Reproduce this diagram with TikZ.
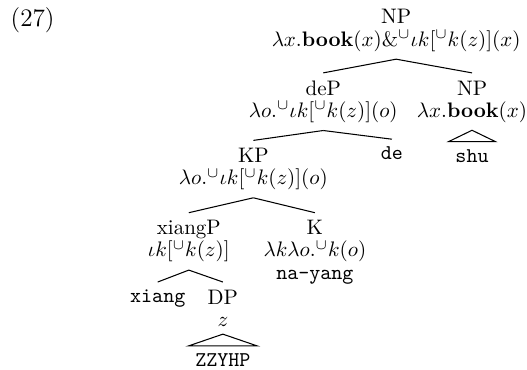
\documentclass[tikz,border=0pt]{standalone}
\usepackage{amsmath}

\tikzset{
  tnode/.style={align=center,anchor=north,inner xsep=0pt,inner ysep=3.5pt,
    font=\fontsize{10pt}{10.5pt}\selectfont},
  leaf/.style={tnode,font=\ttfamily}
}

\begin{document}
\begin{tikzpicture}[line width=0.5pt]
\useasboundingbox (0,0) rectangle (8.82,-6.19);
% 例句编号
\node[anchor=north west,inner sep=0pt,font=\large] (num) at (0.17,-0.12) {(27)};
% 根节点
\node[tnode] (np) at (6.63,-0.03) {NP\\$\lambda x.\mathbf{book}(x)\&^{\cup}\iota k[^{\cup}k(z)](x)$};
% 第二层
\node[tnode] (dep) at (5.41,-1.22) {deP\\$\lambda o.^{\cup}\iota k[^{\cup}k(z)](o)$};
\node[tnode] (npb) at (7.90,-1.22) {NP\\$\lambda x.\mathbf{book}(x)$};
\draw (np.south) -- (dep.north);
\draw (np.south) -- (npb.north);
% 第三层
\node[tnode] (kp) at (4.24,-2.35) {KP\\$\lambda o.^{\cup}\iota k[^{\cup}k(z)](o)$};
\node[leaf] (de) at (6.56,-2.33) {de};
\node[leaf] (shu) at (7.90,-2.37) {shu};
\draw (dep.south) -- (kp.north);
\draw (dep.south) -- (de.north);
% 三角形：shu
\draw (npb.south) -- ([xshift=-3pt]shu.north west) -- ([xshift=3pt]shu.north east) -- cycle;
% 第四层
\node[tnode] (xiangp) at (3.16,-3.56) {xiangP\\$\iota k[^{\cup}k(z)]$};
\node[tnode] (k) at (5.27,-3.56) {K\\$\lambda k\lambda o.^{\cup}k(o)$\\\texttt{na-yang}};
\draw (kp.south) -- (xiangp.north);
\draw (kp.south) -- (k.north);
% 第五层
\node[leaf] (xiang) at (2.64,-4.72) {xiang};
\node[tnode] (dp) at (3.73,-4.72) {DP\\$z$};
\draw (xiangp.south) -- (xiang.north);
\draw (xiangp.south) -- (dp.north);
% 三角形：ZZYHP
\node[leaf] (zzyhp) at (3.73,-5.79) {ZZYHP};
\draw (dp.south) -- ([xshift=-3pt]zzyhp.north west) -- ([xshift=3pt]zzyhp.north east) -- cycle;
\end{tikzpicture}
\end{document}
